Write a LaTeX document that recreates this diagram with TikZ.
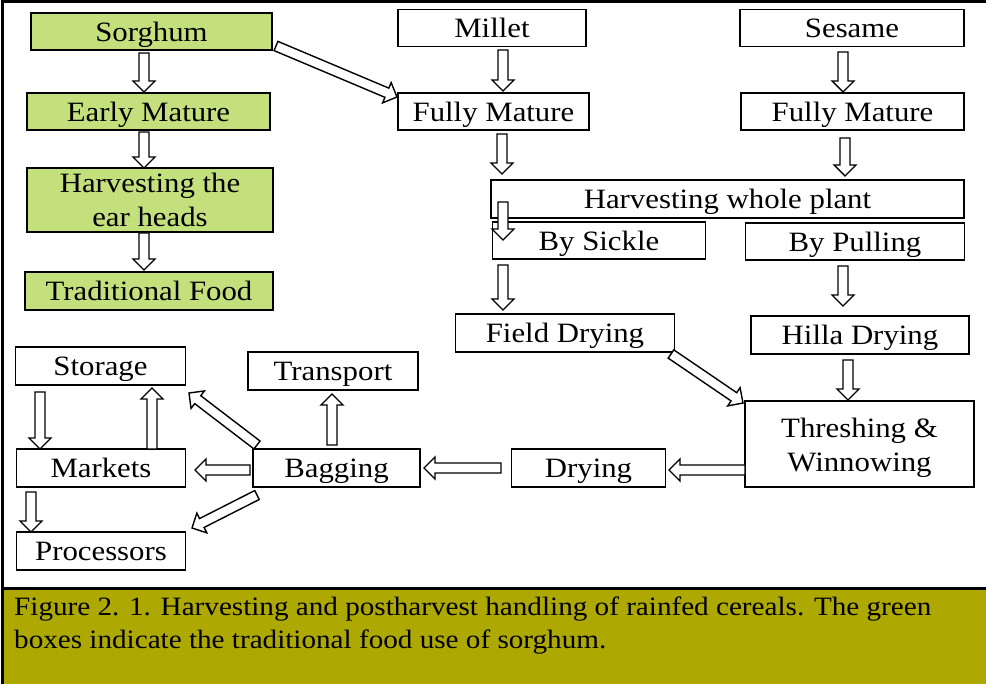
\documentclass[tikz,border=0pt]{standalone}
\usepackage{fontspec}
\setmainfont{Liberation Serif}
\newfontfamily\bxfont{Liberation Serif}[FakeStretch=1.1]
\usetikzlibrary{calc}
\definecolor{boxgreen}{RGB}{195,224,125}
\definecolor{capolive}{RGB}{174,168,2}
\tikzset{
  bx/.style={draw, line width=1.5pt, fill=white, inner sep=0pt, align=center,
    font=\bxfont\fontsize{28}{34}\selectfont, text height=20pt, text depth=0pt},
  twoline/.style={text height=, text depth=},
  gbx/.style={bx, fill=boxgreen},
  arr/.style={draw, fill=white, line width=1.4pt, line join=miter},
  frameline/.style={line width=3pt, draw=black}
}
\newcommand\barr[2]{%
  \coordinate (bh) at ($(#2)!11pt!(#1)$);
  \draw[arr] ($(#1)!5pt!90:(#2)$) -- ($(bh)!5pt!90:(#2)$) -- ($(bh)!11pt!90:(#2)$)
    -- (#2) -- ($(bh)!11pt!-90:(#2)$) -- ($(bh)!5pt!-90:(#2)$) -- ($(#1)!5pt!-90:(#2)$) -- cycle;}
\begin{document}
\begin{tikzpicture}[x=1pt,y=-1pt]
\useasboundingbox (0,0) rectangle (986,684);
% caption band and frame
\fill[capolive] (3,589) rectangle (986,684);
\draw[frameline] (2,684) -- (2,2) -- (986,2);
\draw[frameline] (2,588) -- (986,588);
\node[anchor=base west, inner sep=0pt, align=left, font=\bxfont\fontsize{26.5}{33}\selectfont] (cap) at (14,648)
  {Figure 2. 1. Harvesting and postharvest handling of rainfed cereals. The green\\boxes indicate the traditional food use of sorghum.};
% green boxes
\node[gbx, minimum width=241pt, minimum height=37pt] (sorghum) at (151.5,31.5) {Sorghum};
\node[gbx, minimum width=243pt, minimum height=37pt] (early) at (148.5,111.5) {Early Mature};
\node[gbx, twoline, minimum width=246pt, minimum height=64pt] (earhead) at (150,200) {Harvesting the\\ear heads};
\node[gbx, minimum width=248pt, minimum height=38pt] (trad) at (149,291) {Traditional Food};
% white boxes
\node[bx, minimum width=188pt, minimum height=37pt] (millet) at (492,28) {Millet};
\node[bx, minimum width=191pt, minimum height=37pt] (fma) at (493.5,111.5) {Fully Mature};
\node[bx, minimum width=224pt, minimum height=37pt] (sesame) at (852,28) {Sesame};
\node[bx, minimum width=223pt, minimum height=37pt] (fmb) at (852.5,111.5) {Fully Mature};
\node[bx, minimum width=473pt, minimum height=38pt] (whole) at (727.5,199) {Harvesting whole plant};
\node[bx, minimum width=213pt, minimum height=37pt] (sickle) at (599,240.5) {By Sickle};
\node[bx, minimum width=219pt, minimum height=37pt] (pulling) at (855,241.5) {By Pulling};
\node[bx, minimum width=219pt, minimum height=38pt] (field) at (565,333) {Field Drying};
\node[bx, minimum width=218pt, minimum height=38pt] (hilla) at (860,335) {Hilla Drying};
\node[bx, twoline, minimum width=229pt, minimum height=86pt] (thresh) at (859.5,444) {\rule{0pt}{27pt}Threshing \&\\Winnowing};
\node[bx, minimum width=154pt, minimum height=38pt] (drying) at (588.5,468) {Drying};
\node[bx, minimum width=167pt, minimum height=38pt] (bagging) at (336.5,468) {Bagging};
\node[bx, minimum width=170pt, minimum height=38pt] (transport) at (333,371) {Transport};
\node[bx, minimum width=170pt, minimum height=38pt] (storage) at (100.5,366) {Storage};
\node[bx, minimum width=169pt, minimum height=38pt] (markets) at (101,468) {Markets};
\node[bx, minimum width=169pt, minimum height=38pt] (processors) at (101,551) {Processors};
% arrow end points
\coordinate (a1) at (144,53);   \coordinate (b1) at (144,92);
\coordinate (a2) at (144,132);  \coordinate (b2) at (144,168);
\coordinate (a3) at (144,233);  \coordinate (b3) at (144,270);
\coordinate (a4) at (276,46);   \coordinate (b4) at (397,97);
\coordinate (a5) at (503,50);   \coordinate (b5) at (503,91);
\coordinate (a6) at (843,52);   \coordinate (b6) at (843,92);
\coordinate (a7) at (502,134);  \coordinate (b7) at (502,174);
\coordinate (a8) at (845,138);  \coordinate (b8) at (845,176);
\coordinate (a9) at (503,202);  \coordinate (b9) at (503,240);
\coordinate (a10) at (503,265); \coordinate (b10) at (503,310);
\coordinate (a11) at (843,266); \coordinate (b11) at (843,306);
\coordinate (a12) at (848,360); \coordinate (b12) at (848,400);
\coordinate (a13) at (671,354); \coordinate (b13) at (743,403);
\coordinate (a14) at (745,470); \coordinate (b14) at (669,470);
\coordinate (a15) at (501,468); \coordinate (b15) at (424,468);
\coordinate (a16) at (332,445); \coordinate (b16) at (332,394);
\coordinate (a17) at (257,445); \coordinate (b17) at (189,393);
\coordinate (a18) at (250,470); \coordinate (b18) at (195,470);
\coordinate (a19) at (257,495); \coordinate (b19) at (192,528);
\coordinate (a20) at (40,392);  \coordinate (b20) at (40,449);
\coordinate (a21) at (152,449); \coordinate (b21) at (152,388);
\coordinate (a22) at (31,492);  \coordinate (b22) at (31,532);
% arrows
\barr{a1}{b1}\barr{a2}{b2}\barr{a3}{b3}\barr{a4}{b4}
\barr{a5}{b5}\barr{a6}{b6}\barr{a7}{b7}\barr{a8}{b8}
\barr{a9}{b9}\barr{a10}{b10}\barr{a11}{b11}\barr{a12}{b12}
\barr{a13}{b13}\barr{a14}{b14}\barr{a15}{b15}\barr{a16}{b16}
\barr{a17}{b17}\barr{a18}{b18}\barr{a19}{b19}\barr{a20}{b20}
\barr{a21}{b21}\barr{a22}{b22}
\end{tikzpicture}
\end{document}
